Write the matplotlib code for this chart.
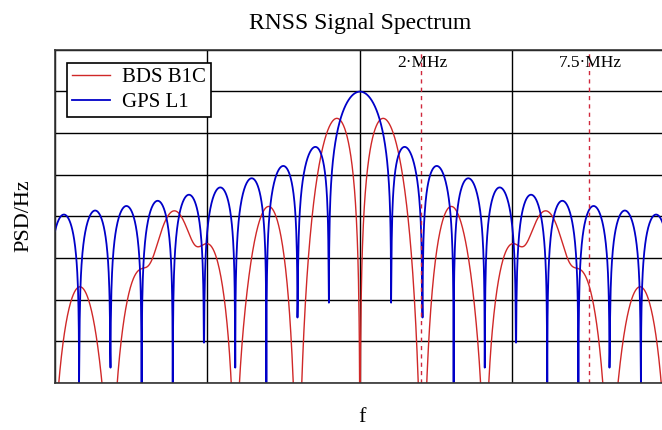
import numpy as np
import matplotlib
matplotlib.use("Agg")
import matplotlib.pyplot as plt

# signal parameters (MHz)
fc = 1.023          # chip rate, both signals
fs_boc11 = 1.023    # BOC(1,1) subcarrier
fs_boc61 = 6.138    # BOC(6,1) subcarrier
w_boc61 = 1.0 / 11  # MBOC(6,1,1/11) power split
f_span = (-10.0, 10.0)
f_step = 0.01
marker_freqs = [2.0, 7.5]
marker_labels = ["2·MHz", "7.5·MHz"]
series_names = ["BDS B1C", "GPS L1"]
y_range = (-130, -50)

f = np.arange(f_span[0], f_span[1] + f_step / 2, f_step)
Tc = 1.0 / (fc * 1e6)


def bpsk_norm(f):
    return np.sinc(f / fc) ** 2


def boc_norm(f, fs):
    x = np.pi * f
    with np.errstate(divide="ignore", invalid="ignore"):
        g = (np.sin(x / fc) * np.tan(x / (2 * fs)) / (x / fc)) ** 2
    return np.nan_to_num(g, nan=0.0)


gps = 10 * np.log10(Tc * np.maximum(bpsk_norm(f), 1e-30))
mboc = (1 - w_boc61) * boc_norm(f, fs_boc11) + w_boc61 * boc_norm(f, fs_boc61)
bds = 10 * np.log10(Tc * np.maximum(mboc, 1e-30) ** 2)

plt.rcParams["font.family"] = ["Liberation Serif", "DejaVu Serif"]
fig = plt.figure(figsize=(6.62, 4.30), dpi=100)
ax = fig.add_axes([55 / 662, 1 - 383 / 430, 610 / 662, 333.5 / 430])

ax.plot(f, bds, color="#d02828", lw=1.0, label=series_names[0])
ax.plot(f, gps, color="#0000c8", lw=1.3, label=series_names[1])

for fm, lab in zip(marker_freqs, marker_labels):
    ax.axvline(fm, color="#d0283c", lw=1.0, ls=(0, (3, 3)))
    ax.text(fm + 0.05, y_range[1] - 1.3, lab, ha="center", va="top",
            fontsize=12.5)

ax.set_xlim(*f_span)
ax.set_ylim(*y_range)
ax.set_xticks(np.arange(-10, 10.1, 5))
ax.set_yticks(np.arange(y_range[0], y_range[1] + 1, 10))
ax.grid(True, color="black", lw=1.0)
ax.tick_params(length=0, labelbottom=False, labelleft=False)
for s in ax.spines.values():
    s.set_color("#333333")
    s.set_linewidth(1.2)

leg = ax.legend(loc="upper left", bbox_to_anchor=(12 / 610, 1 - 13 / 333.5),
                fontsize=15, frameon=True, fancybox=False, handlelength=1.8,
                borderpad=0.25, labelspacing=0.25, handletextpad=0.6,
                borderaxespad=0)
leg.get_frame().set_edgecolor("black")
leg.get_frame().set_linewidth(1.2)
leg.get_frame().set_alpha(1)

fig.text(360 / 662, 1 - 23 / 430, "RNSS Signal Spectrum", ha="center",
         va="center", fontsize=17)
fig.text(24 / 662, 1 - 216 / 430, "PSD/Hz", ha="center", va="center",
         rotation=90, fontsize=16)
fig.text(362 / 662, 1 - 418 / 430, "f", ha="center", va="center", fontsize=16)

fig.savefig("out.png", dpi=100)
